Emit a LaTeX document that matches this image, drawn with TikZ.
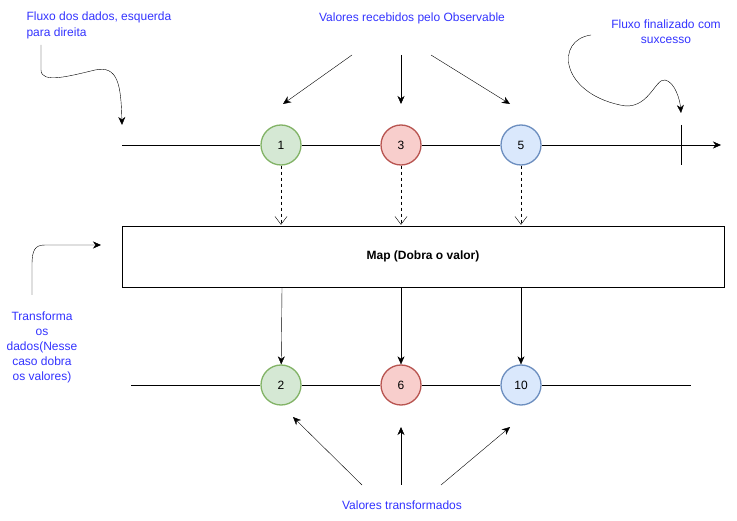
\documentclass[tikz,border=0pt]{standalone}
\usepackage{fontspec}
\setmainfont{Liberation Sans}
\usepackage{xcolor}
\usepackage{tikz}
\usetikzlibrary{arrows.meta, positioning, calc}
\definecolor{onecolor}{RGB}{213,232,212}
\definecolor{oneline}{RGB}{130,179,102}
\definecolor{threecolor}{RGB}{248,206,204}
\definecolor{threeline}{RGB}{184,84,80}
\definecolor{fivecolor}{RGB}{218,232,252}
\definecolor{fiveline}{RGB}{108,142,191}
\definecolor{notecolor}{RGB}{51,51,255}

\begin{document}
\begin{tikzpicture}[x=1pt, y=-1pt,
    value/.style={circle, draw, line width=1.3pt, minimum size=40pt, inner sep=0pt, font=\fontsize{12}{14}\selectfont},
    note/.style={text=notecolor, font=\fontsize{12}{15}\selectfont, align=center},
    flow/.style={-{Stealth[length=8pt, width=7pt, inset=2.5pt]}},
    emit/.style={dash pattern=on 3pt off 3pt, -{Straight Barb[length=8pt, width=12pt]}}]
    \useasboundingbox (0,0) rectangle (737,521);

    % Notes
    \node[note, align=left, anchor=west] (flownote) at (23,25) {Fluxo dos dados, esquerda\\[1pt]para direita};
    \node[note] (received) at (412,18) {Valores recebidos pelo Observable};
    \node[note] (donenote) at (666,32) {Fluxo finalizado com\\suxcesso};
    \node[note] (mapnote) at (42,347) {Transforma\\os\\dados(Nesse\\caso dobra\\os valores)};
    \node[note] (transformed) at (402,505) {Valores transformados};

    % Observable values
    \node[value, fill=onecolor, draw=oneline] (v1) at (281,145) {1};
    \node[value, fill=threecolor, draw=threeline] (v3) at (401,145) {3};
    \node[value, fill=fivecolor, draw=fiveline] (v5) at (521,145) {5};
    \coordinate (topstart) at (122,145);
    \coordinate (topend) at (721,145);
    \draw (topstart) -- (v1) -- (v3) -- (v5);
    \draw[flow] (v5) -- (topend);
    \coordinate (donetop) at (681,125);
    \coordinate (donebot) at (681,165);
    \draw (donetop) -- (donebot);

    % Operator
    \node[draw, minimum width=602pt, minimum height=61pt, font=\fontsize{12}{14}\selectfont\bfseries] (map) at (423,256.5) {Map (Dobra o valor)};
    \draw[emit] (v1) -- ($(v1 |- map.north)+(0,-1)$);
    \draw[emit] (v3) -- ($(v3 |- map.north)+(0,-1)$);
    \draw[emit] (v5) -- ($(v5 |- map.north)+(0,-1)$);

    % Transformed values
    \node[value, fill=onecolor, draw=oneline] (w2) at (281,385) {2};
    \node[value, fill=threecolor, draw=threeline] (w6) at (401,385) {6};
    \node[value, fill=fivecolor, draw=fiveline] (w10) at (521,385) {10};
    \coordinate (botstart) at (131,385);
    \coordinate (botend) at (691,385);
    \draw (botstart) -- (w2) -- (w6) -- (w10) -- (botend);
    \draw[flow] ($(w2 |- map.south)+(1,1)$) -- (w2);
    \draw[flow] ($(w6 |- map.south)+(0,1)$) -- (w6);
    \draw[flow] ($(w10 |- map.south)+(0,1)$) -- (w10);

    % Pointers from the notes
    \coordinate (r1) at (352,55);
    \coordinate (r3) at (401,55);
    \coordinate (r5) at (431,55);
    \draw[flow] (r1) -- (283,104);
    \draw[flow] (r3) -- (401,104);
    \draw[flow] (r5) -- (510,104);
    \coordinate (t2) at (362,485);
    \coordinate (t6) at (401,485);
    \coordinate (t10) at (441,485);
    \draw[flow] (t2) -- (293,417);
    \draw[flow] (t6) -- (401,427);
    \draw[flow] (t10) -- (510,427);

    \coordinate (flowstart) at (41,45);
    \coordinate (flowend) at (122,125);
    \draw[flow] (flowstart) -- (41,70) .. controls (41,84) and (70,76) .. (95,70) .. controls (118,65) and (121,85) .. (flowend);
    \coordinate (donestart) at (591,35);
    \coordinate (doneend) at (681,113);
    \draw[flow] (donestart) .. controls (555,40) and (560,92) .. (620,105) .. controls (648,112) and (655,78) .. (665,80) .. controls (675,82) and (680,100) .. (doneend);
    \coordinate (mapstart) at (32,295);
    \coordinate (mapend) at (101,245);
    \draw[flow] (mapstart) -- (32,265) .. controls (32,250) and (35,245) .. (45,245) -- (mapend);
\end{tikzpicture}
\end{document}
